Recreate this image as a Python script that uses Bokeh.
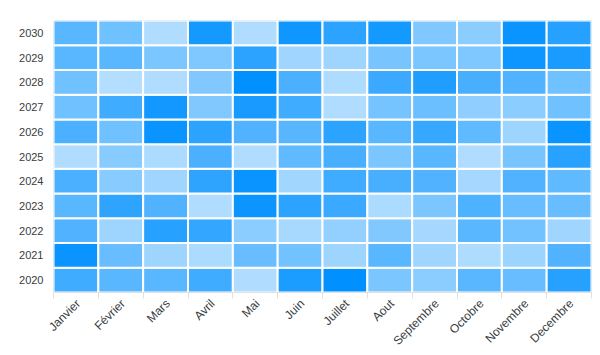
import numpy as np
from bokeh.plotting import figure
from bokeh.models import LinearColorMapper, FixedTicker, Range1d, FactorRange, ColumnDataSource
from bokeh.embed import file_html
from bokeh.resources import INLINE

months = ["Janvier", "Février", "Mars", "Avril", "Mai", "Juin", "Juillet",
          "Aout", "Septembre", "Octobre", "Novembre", "Decembre"]
years = ["2020", "2021", "2022", "2023", "2024", "2025", "2026", "2027", "2028", "2029", "2030"]

v2030 = [45, 34, 2, 80, 2, 82, 68, 80, 26, 20, 85, 70]
v2029 = [45, 45, 28, 27, 68, 10, 11, 30, 28, 27, 83, 77]
v2028 = [34, 0, 2, 26, 90, 53, 3, 61, 74, 54, 49, 34]
v2027 = [34, 58, 81, 25, 78, 58, 2, 31, 36, 18, 20, 34]
v2026 = [53, 34, 85, 68, 49, 46, 68, 45, 62, 42, 11, 85]
v2025 = [2, 22, 4, 53, 2, 42, 54, 28, 45, 2, 30, 69]
v2024 = [53, 22, 10, 67, 85, 9, 58, 54, 49, 7, 49, 42]
v2023 = [45, 67, 49, 2, 84, 68, 61, 4, 28, 51, 38, 38]
v2022 = [49, 11, 70, 64, 20, 6, 16, 25, 7, 45, 33, 10]
v2021 = [85, 38, 11, 4, 38, 33, 11, 45, 10, 3, 12, 49]
v2020 = [58, 45, 45, 58, 2, 76, 90, 28, 20, 45, 38, 70]

series = {"2020": v2020, "2021": v2021, "2022": v2022, "2023": v2023, "2024": v2024,
          "2025": v2025, "2026": v2026, "2027": v2027, "2028": v2028, "2029": v2029,
          "2030": v2030}

xs, ys, vals = [], [], []
for y in years:
    for i, m in enumerate(months):
        xs.append(i + 0.5)
        ys.append(y)
        vals.append(series[y][i])
src = ColumnDataSource(dict(x=xs, y=ys, v=vals))

# palette from light to full blue
c0 = np.array([179, 222, 255])
c1 = np.array([0, 144, 255])
palette = []
for t in np.linspace(0, 1, 256):
    c = (c0 + (c1 - c0) * t).round().astype(int)
    palette.append("#%02x%02x%02x" % tuple(c))
mapper = LinearColorMapper(palette=palette, low=0, high=90)

p = figure(width=600, height=355, output_backend="svg", toolbar_location=None,
           x_range=Range1d(0, len(months)), y_range=FactorRange(*years),
           min_border_left=53, min_border_right=9, min_border_top=20, min_border_bottom=63)
p.rect(x="x", y="y", width=1, height=1, source=src,
       fill_color={"field": "v", "transform": mapper},
       line_color="white", line_width=2)

p.outline_line_color = "#e8e8e8"
p.grid.visible = False
p.background_fill_color = "white"

font = "Liberation Sans"
label_shift = 0.05
p.xaxis.ticker = FixedTicker(ticks=[i + 0.5 + label_shift for i in range(len(months))],
                             minor_ticks=list(range(len(months) + 1)))
p.xaxis.major_label_overrides = {i + 0.5 + label_shift: m for i, m in enumerate(months)}
p.xaxis.major_tick_line_color = None
p.xaxis.major_tick_out = 0
p.xaxis.major_tick_in = 0
p.xaxis.minor_tick_line_color = "#e0e0e0"
p.xaxis.minor_tick_out = 6
p.xaxis.minor_tick_in = 0
p.xaxis.axis_line_color = "#e0e0e0"
p.xaxis.major_label_orientation = np.pi / 4
p.xaxis.major_label_text_font = font
p.xaxis.major_label_text_font_size = "12px"
p.xaxis.major_label_text_color = "#373d3f"
p.xaxis.major_label_standoff = 3

p.yaxis.major_tick_line_color = None
p.yaxis.major_tick_out = 0
p.yaxis.major_tick_in = 0
p.yaxis.axis_line_color = None
p.yaxis.major_label_text_font = font
p.yaxis.major_label_text_font_size = "11px"
p.yaxis.major_label_text_color = "#373d3f"
p.yaxis.major_label_standoff = 10

open("out.html", "w").write(file_html(p, INLINE))
